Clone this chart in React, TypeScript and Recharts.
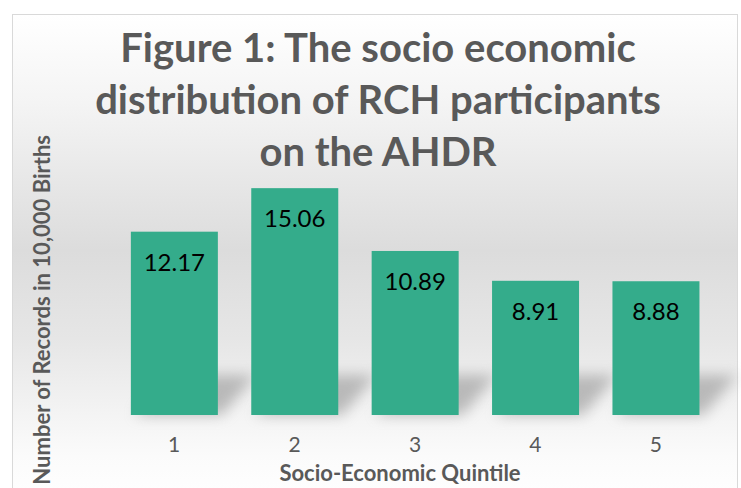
import React from "react";
import { BarChart, Bar, XAxis, YAxis, LabelList } from "recharts";

const quintiles = ["1", "2", "3", "4", "5"];
const recordsPer10k = [12.17, 15.06, 10.89, 8.91, 8.88];
const titleLines = [
  "Figure 1: The socio economic",
  "distribution of RCH participants",
  "on the AHDR",
];

const data = quintiles.map((q, i) => ({ quintile: q, value: recordsPer10k[i] }));

const FONT = "Lato, 'Open Sans', sans-serif";
const GREY = "#595959";

function ShadowBar(props: any) {
  const { x, y, width, height, fill } = props;
  const b = y + height;
  return (
    <g>
      <polygon
        points={`${x + 4},${b} ${x + width + 4},${b} ${x + width + 38},${b - 40} ${x + 38},${b - 40}`}
        fill="#8c8c8c"
        opacity={0.55}
        filter="url(#barShadow)"
      />
      <rect x={x} y={y} width={width} height={height} fill={fill} />
    </g>
  );
}

function InsideLabel(props: any) {
  const { x, y, width, value } = props;
  return (
    <text
      x={x + width / 2}
      y={y + 39}
      textAnchor="middle"
      fill="#000"
      fontSize={24}
      fontFamily={FONT}
    >
      {value.toFixed(2)}
    </text>
  );
}

export default function App() {
  return (
    <div
      style={{
        position: "relative",
        width: 741,
        height: 488,
        overflow: "hidden",
        background: "#fff",
      }}
    >
      <style>{`body{margin:0}`}</style>
      <div
        style={{
          position: "absolute",
          left: 12,
          top: 14,
          width: 724,
          height: 490,
          border: "1px solid #d9d9d9",
          background:
            "linear-gradient(to bottom, #ffffff 0%, #f4f4f4 18%, #dcdcdc 48%, #e6e6e6 66%, #fbfbfb 90%, #ffffff 100%)",
        }}
      />
      <div style={{ position: "absolute", left: 0, top: 0 }}>
        <BarChart
          width={741}
          height={488}
          data={data}
          margin={{ top: 174, right: 25, bottom: 0, left: 114 }}
          barCategoryGap="14%"
        >
          <defs>
            <filter id="barShadow" x="-50%" y="-50%" width="200%" height="200%">
              <feGaussianBlur stdDeviation="7" />
            </filter>
          </defs>
          <YAxis hide domain={[0, 16]} />
          <XAxis
            dataKey="quintile"
            height={73}
            tickLine={false}
            axisLine={false}
            tickSize={0}
            tickMargin={22}
            tick={{ fill: GREY, fontSize: 21, fontFamily: FONT }}
          />
          <Bar
            dataKey="value"
            fill="#34AC8B"
            isAnimationActive={false}
            shape={<ShadowBar />}
          >
            <LabelList dataKey="value" content={<InsideLabel />} />
          </Bar>
        </BarChart>
      </div>
      <svg
        width={741}
        height={488}
        style={{ position: "absolute", left: 0, top: 0, pointerEvents: "none" }}
      >
        {titleLines.map((line, i) => (
          <text
            key={line}
            x={378}
            y={62 + i * 52}
            textAnchor="middle"
            fill={GREY}
            fontSize={40}
            fontWeight="bold"
            fontFamily={FONT}
          >
            {line}
          </text>
        ))}
        <text
          transform="translate(50, 135) rotate(-90)"
          textAnchor="end"
          fill={GREY}
          fontSize={22}
          fontWeight="bold"
          fontFamily={FONT}
        >
          Number of Records in 10,000 Births
        </text>
        <text
          x={400}
          y={481}
          textAnchor="middle"
          fill={GREY}
          fontSize={22}
          fontWeight="bold"
          fontFamily={FONT}
        >
          Socio-Economic Quintile
        </text>
      </svg>
    </div>
  );
}
